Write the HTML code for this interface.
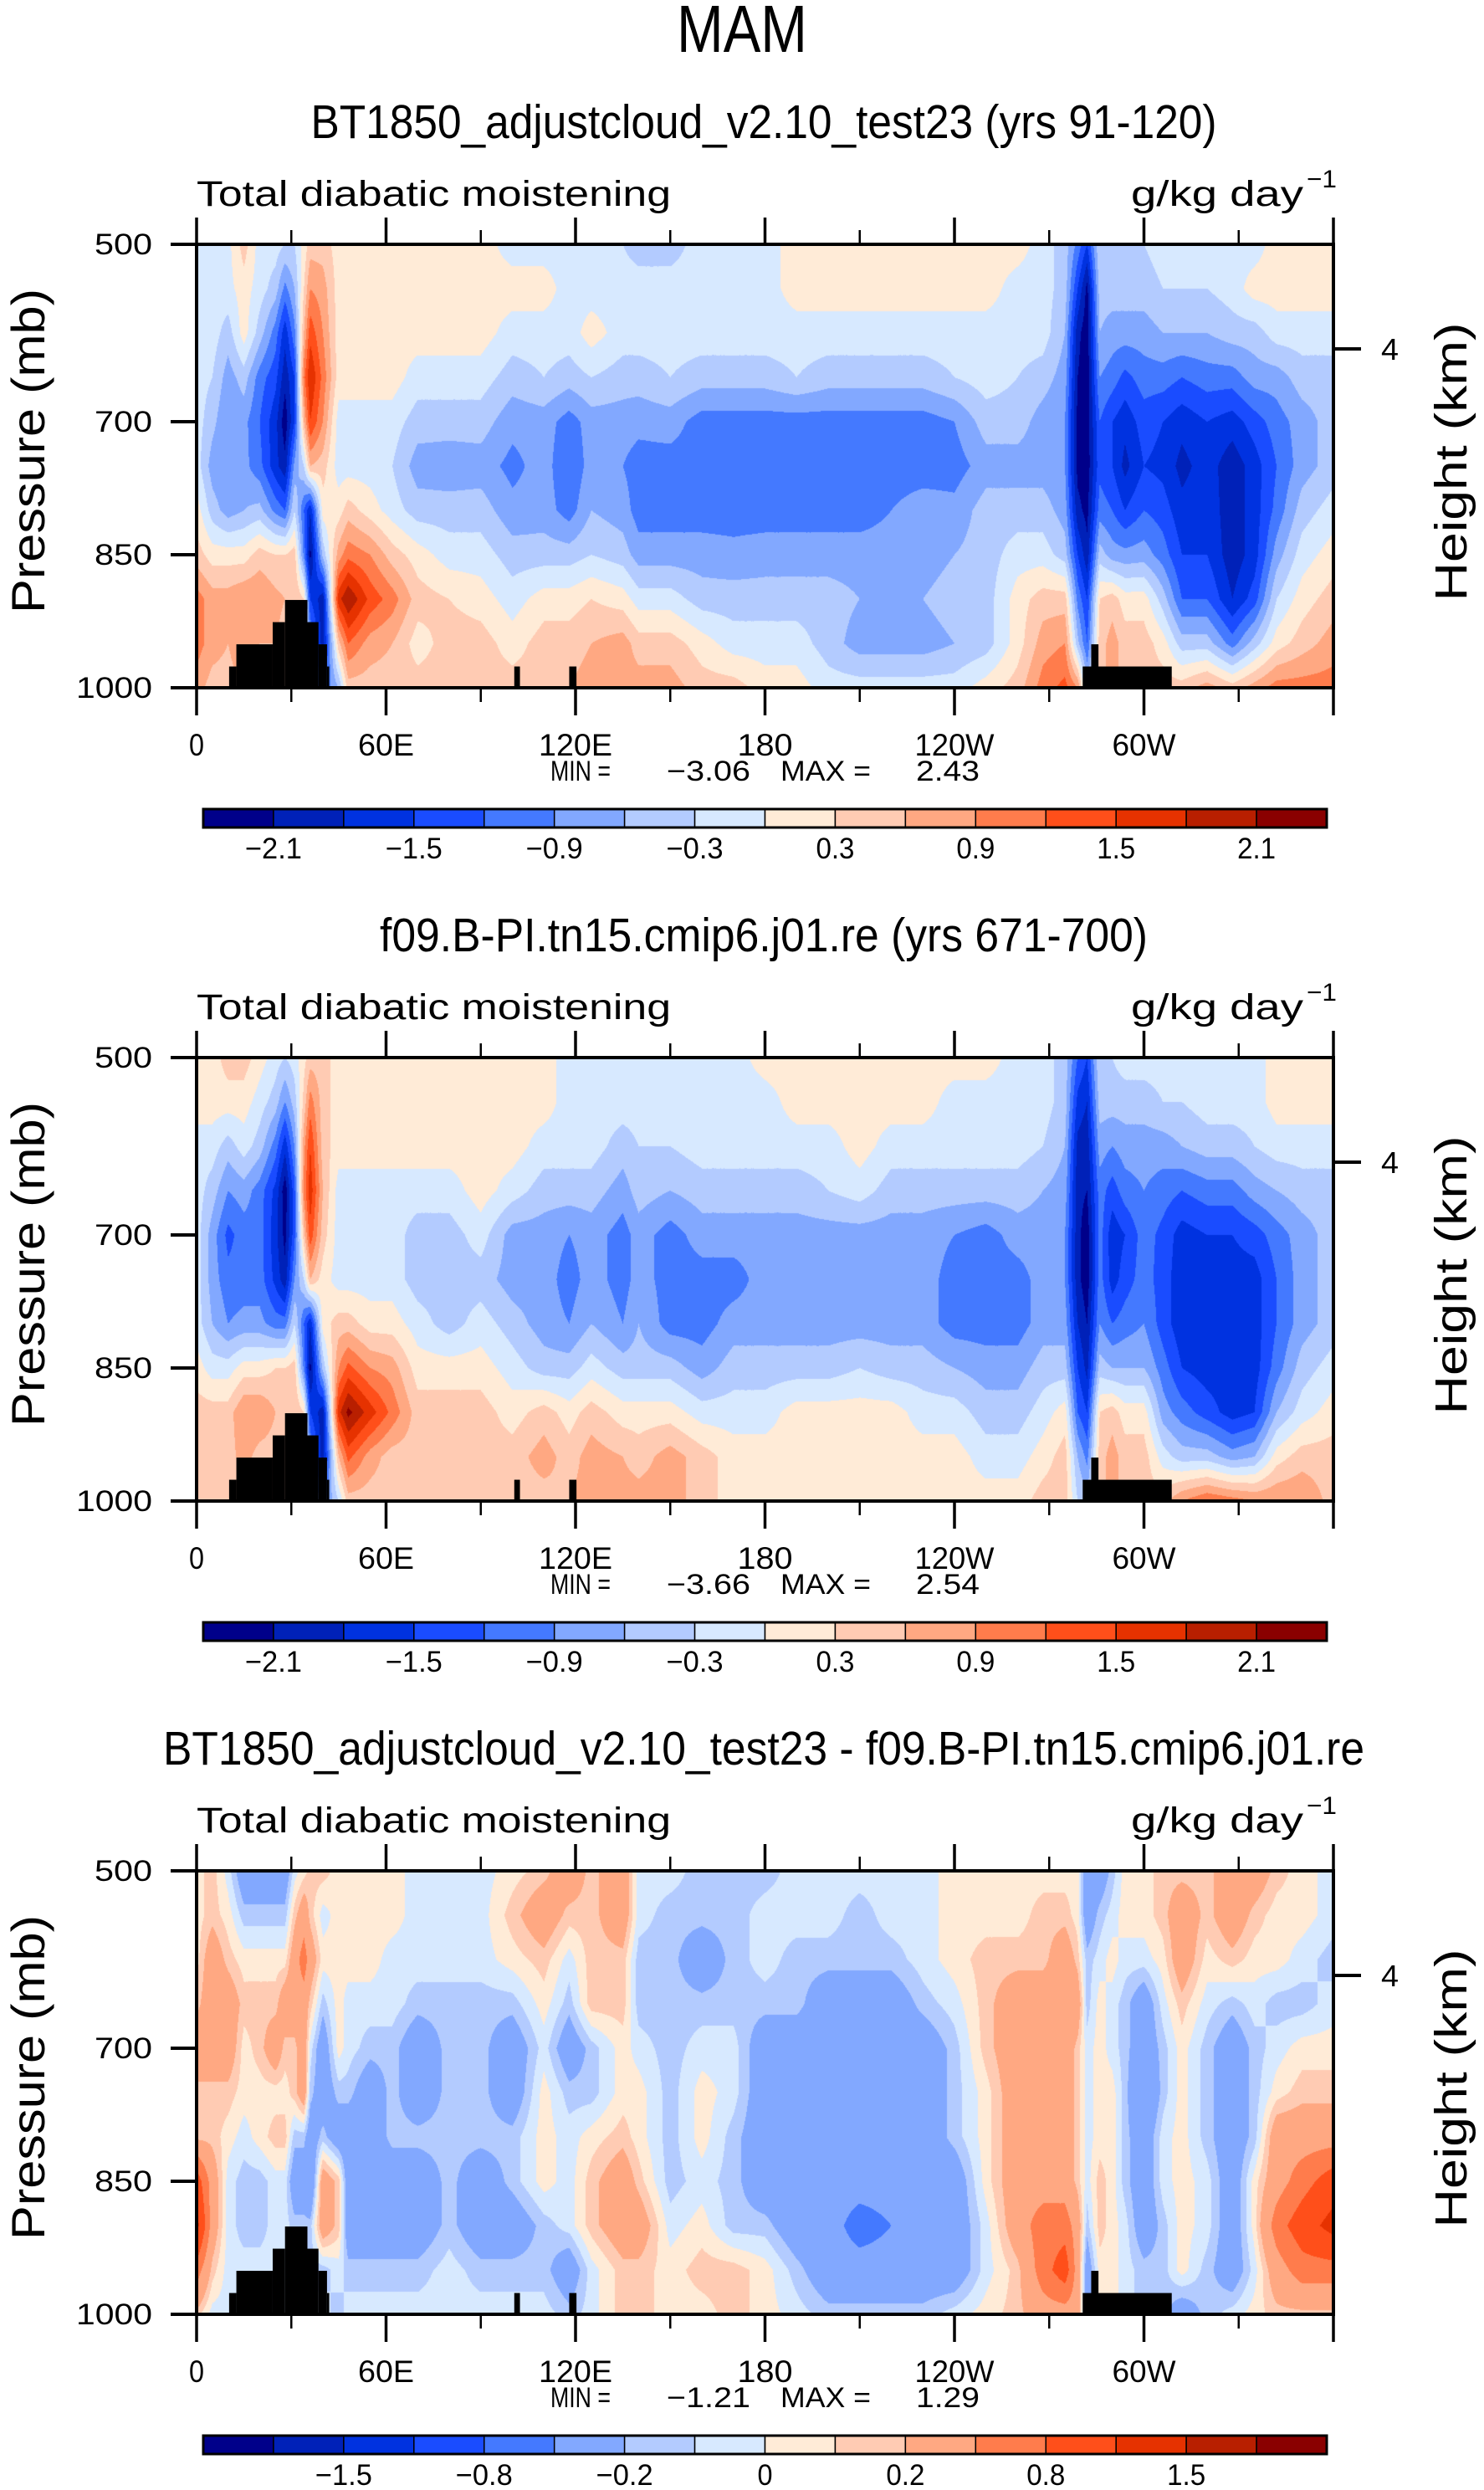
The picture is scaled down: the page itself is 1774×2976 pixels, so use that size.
<!DOCTYPE html>
<html><head><meta charset="utf-8"><title>MAM Total diabatic moistening</title>
<style>
html,body{margin:0;padding:0;background:#fff;}
#page{position:relative;width:1774px;height:2976px;overflow:hidden;background:#fff;}
canvas{position:absolute;}
svg{position:absolute;left:0;top:0;}
text{font-family:"Liberation Sans",sans-serif;fill:#000;}
</style></head>
<body>
<div id="page">
<canvas id="cv0"></canvas>
<canvas id="cv1"></canvas>
<canvas id="cv2"></canvas>
<svg id="svg" width="1774" height="2976" xmlns="http://www.w3.org/2000/svg">
<text x="887" y="62" font-size="80" text-anchor="middle" textLength="156" lengthAdjust="spacingAndGlyphs">MAM</text>
</svg>
</div>
<script>
// ---------- data ----------
const lonGrid=[0,5,10,15,20,25,28,31,34,36,40,45,48,55,62,70,80,90,100,110,118,125,135,140,150,160,170,180,190,200,210,220,230,240,250,260,268,275,279,282,286,290,294,300,306,312,320,328,335,342,350,360];
const pressureLevels=[500,550,600,650,700,750,800,850,900,950,1000];
const levelsAbs=[-2.1,-1.8,-1.5,-1.2,-0.9,-0.6,-0.3,0,0.3,0.6,0.9,1.2,1.5,1.8,2.1];
const levelsDiff=[-1.8,-1.5,-1.2,-0.8,-0.5,-0.2,-0.1,0,0.1,0.2,0.5,0.8,1.2,1.5,1.8];
const labelsAbs=["\u22122.1","\u22121.5","\u22120.9","\u22120.3","0.3","0.9","1.5","2.1"];
const labelIdxAbs=[0,2,4,6,8,10,12,14];
const labelsDiff=["\u22121.5","\u22120.8","\u22120.2","0","0.2","0.8","1.5"];
const labelIdxDiff=[1,3,5,7,9,11,13];
const palette=["#00008a","#0021b8","#0032e0","#1a4cff","#4479ff","#82a8ff","#b3cbff","#d7e9ff","#ffebd7","#ffcbb3","#ffa882","#ff7c4c","#ff4f1a","#e63200","#b81f00","#8a0000"];
const xTickLons=[0,60,120,180,240,300];
const xTickLabels=["0","60E","120E","180","120W","60W"];
const yTickP=[500,700,850,1000];
const yTickLabels=["500","700","850","1000"];
const topoLonStart=[10.3,12.6,24.1,28.0,35.1,38.6,41.3,100.6,118.0,280.6,283.3];
const topoLonEnd=[12.6,24.1,28.0,35.1,38.6,41.3,42.0,102.4,120.3,308.8,285.6];
const topoPressure=[976,951,926,901,926,951,976,976,976,976,951];
const panelTitles=["BT1850_adjustcloud_v2.10_test23 (yrs 91-120)","f09.B-PI.tn15.cmip6.j01.re (yrs 671-700)","BT1850_adjustcloud_v2.10_test23 - f09.B-PI.tn15.cmip6.j01.re"];
const panelMin=["\u22123.06","\u22123.66","\u22121.21"];
const panelMax=["2.43","2.54","1.29"];

const panel1Values=[
[-0.15,-0.15,-0.15,-0.15,-0.15,-0.15,0.15,0.45,1.05,1.05,0.75],
[-0.15,-0.15,-0.15,-0.3,-0.5,-0.75,-0.45,0.15,0.75,0.75,0.45],
[-0.1,-0.1,-0.45,-0.75,-0.9,-0.9,-0.75,0.15,0.75,0.6,0.45],
[0.45,0.15,0.15,-0.45,-0.8,-0.8,-0.6,0.15,0.9,0.9,0.6],
[-0.15,-0.15,-0.45,-1.05,-1.2,-1.1,-0.5,0.45,0.9,0.6,0.45],
[-0.15,-0.45,-1.05,-1.4,-1.7,-1.7,-1.0,0.3,0.7,0.6,0.45],
[-0.3,-1.0,-1.7,-2.0,-2.3,-2.0,-1.2,0.3,0.6,0.45,0.45],
[-0.3,-0.6,-1.0,-1.5,-1.5,-0.8,-0.3,0.45,0.6,0.45,0.45],
[0.1,0.3,0.6,1.1,0.6,-0.3,-1.2,-1.0,0.3,0.3,0.3],
[0.45,0.9,1.4,1.8,1.5,0.6,-1.8,-2.2,-1.5,-0.8,-0.3],
[0.45,0.75,0.9,1.1,0.9,0.45,0.15,-0.5,-2.0,-2.0,-1.2],
[0.15,0.15,0.15,0.15,-0.15,-0.15,0.15,0.75,1.7,0.5,-0.6],
[0.15,0.15,0.15,0.15,-0.15,-0.15,0.45,1.1,2.1,1.2,0.45],
[0.15,0.15,0.15,0.15,-0.15,-0.15,0.15,0.9,1.4,0.75,0.45],
[0.15,0.15,0.15,0.15,-0.15,-0.3,-0.15,0.45,1.05,0.6,0.45],
[0.15,0.15,0.15,-0.15,-0.45,-0.75,-0.45,0.15,0.45,0.15,0.45],
[0.15,0.15,0.15,-0.15,-0.45,-0.8,-0.45,-0.15,0.3,0.45,0.45],
[0.15,0.15,0.15,-0.15,-0.45,-0.75,-0.45,-0.15,0.15,0.45,0.45],
[-0.15,0.15,-0.15,-0.45,-0.8,-1.0,-0.8,-0.45,-0.15,0.15,0.45],
[-0.15,0.15,-0.15,-0.3,-0.75,-0.75,-0.75,-0.45,0.15,0.45,0.45],
[-0.15,-0.15,-0.15,-0.45,-1.05,-1.2,-1.05,-0.45,0.15,0.45,0.6],
[-0.15,-0.15,0.15,-0.3,-0.75,-0.75,-0.6,-0.3,0.3,0.6,0.75],
[-0.3,-0.15,-0.15,-0.45,-0.75,-0.9,-0.75,-0.45,0.15,0.75,0.75],
[-0.45,-0.15,-0.15,-0.45,-0.8,-1.05,-1.05,-0.75,-0.15,0.45,0.75],
[-0.45,-0.15,-0.15,-0.3,-0.75,-1.05,-1.05,-0.75,-0.15,0.45,0.75],
[-0.15,-0.15,-0.15,-0.45,-1.05,-1.05,-1.05,-0.75,-0.45,0.15,0.45],
[-0.15,-0.15,-0.15,-0.45,-1.05,-1.05,-1.05,-0.8,-0.45,-0.15,0.45],
[-0.15,-0.15,-0.15,-0.45,-1.05,-1.05,-1.05,-0.75,-0.45,-0.15,0.15],
[0.15,0.15,-0.15,-0.3,-1.05,-1.05,-1.05,-0.75,-0.45,-0.15,0.15],
[0.15,0.15,-0.15,-0.45,-1.05,-1.05,-1.05,-0.75,-0.45,-0.45,-0.15],
[0.15,0.15,-0.15,-0.45,-1.05,-1.05,-1.05,-0.75,-0.6,-0.75,-0.15],
[0.15,0.15,-0.15,-0.45,-1.05,-1.05,-0.9,-0.75,-0.6,-0.75,-0.15],
[0.15,0.15,-0.15,-0.45,-1.05,-1.05,-0.75,-0.75,-0.6,-0.75,-0.15],
[0.15,0.15,-0.15,-0.3,-0.9,-1.05,-0.8,-0.6,-0.45,-0.6,-0.15],
[0.15,0.15,-0.15,-0.15,-0.45,-0.75,-0.45,-0.45,-0.45,-0.45,0.15],
[0.15,-0.15,-0.15,-0.3,-0.45,-0.75,-0.45,-0.15,0.15,0.15,0.45],
[-0.15,-0.15,-0.15,-0.45,-0.75,-0.75,-0.45,-0.15,0.45,0.75,1.05],
[-0.45,-0.45,-0.6,-0.75,-0.9,-0.9,-0.75,-0.45,0.45,0.9,1.3],
[-1.0,-1.5,-2.0,-2.1,-2.2,-2.2,-2.0,-1.5,-1.0,-0.5,0.9],
[-1.5,-2.2,-2.3,-2.3,-2.3,-2.3,-2.2,-2.0,-1.5,-1.2,-0.5],
[-0.3,-0.45,-0.6,-0.9,-1.2,-1.3,-1.05,-0.45,0.3,0.45,0.45],
[-0.3,-0.45,-0.75,-1.05,-1.5,-1.5,-1.2,-0.75,0.45,0.75,0.75],
[-0.3,-0.45,-0.75,-1.3,-1.7,-1.9,-1.5,-0.8,0.15,0.45,0.45],
[-0.3,-0.45,-0.75,-1.05,-1.35,-1.5,-1.2,-0.75,0.15,0.45,0.45],
[-0.15,-0.3,-0.6,-1.05,-1.5,-1.6,-1.35,-1.05,-0.45,0.15,0.45],
[-0.15,-0.3,-0.6,-1.2,-1.7,-1.9,-1.7,-1.5,-1.2,-0.45,0.45],
[-0.15,-0.3,-0.6,-1.05,-1.5,-1.65,-1.6,-1.5,-1.2,-0.45,0.75],
[-0.15,-0.15,-0.45,-1.05,-1.65,-2.0,-2.0,-2.0,-1.8,-1.05,0.45],
[-0.15,0.15,-0.45,-0.75,-1.35,-1.65,-1.65,-1.65,-1.35,-0.45,0.75],
[0.15,0.15,-0.15,-0.75,-1.05,-1.2,-1.1,-0.75,-0.3,0.15,1.05],
[0.15,0.15,-0.15,-0.45,-0.75,-0.75,-0.45,-0.15,0.15,0.45,1.05],
[0.15,0.15,-0.15,-0.45,-0.45,-0.45,-0.15,0.15,0.45,0.75,1.05]
];
const panel2Values=[
[0.15,0.15,-0.15,-0.15,-0.15,-0.15,-0.15,0.15,0.45,0.45,0.45],
[0.15,0.15,-0.15,-0.45,-0.75,-0.75,-0.6,-0.15,0.45,0.45,0.3],
[0.45,0.15,-0.45,-0.9,-1.3,-1.1,-0.9,-0.15,0.45,0.45,0.3],
[0.45,0.15,-0.15,-0.75,-1.05,-1.05,-0.8,0.15,0.9,0.75,0.45],
[0.15,-0.15,-0.45,-1.05,-1.05,-1.05,-0.8,0.15,0.9,0.45,0.45],
[-0.15,-0.45,-1.05,-1.6,-1.7,-1.6,-1.05,0.3,0.6,0.45,0.45],
[-0.3,-0.9,-1.7,-2.3,-2.2,-2.0,-1.05,0.3,0.6,0.45,0.45],
[-0.15,-0.45,-0.9,-1.3,-1.3,-0.9,-0.3,0.45,0.6,0.45,0.45],
[0.2,0.4,0.8,1.0,0.5,-0.3,-1.2,-1.0,0.3,0.3,0.3],
[0.45,1.05,1.5,1.7,1.4,0.6,-1.8,-2.2,-1.5,-0.8,-0.3],
[0.45,0.45,0.45,0.6,0.45,0.15,0.15,-0.5,-2.0,-2.0,-1.0],
[0.15,0.15,0.15,-0.15,-0.15,-0.15,0.45,0.9,1.7,0.6,-0.3],
[0.15,0.15,0.15,-0.15,-0.15,-0.15,0.45,1.3,2.2,1.3,0.45],
[0.15,0.15,0.15,-0.15,-0.15,-0.15,0.15,0.9,1.65,0.75,0.45],
[0.15,0.15,0.15,-0.15,-0.15,-0.15,0.15,0.75,1.1,0.45,0.45],
[0.15,0.15,0.15,-0.15,-0.45,-0.45,-0.15,0.15,0.45,0.45,0.45],
[0.15,0.15,0.15,-0.15,-0.45,-0.45,-0.45,0.15,0.45,0.45,0.45],
[0.15,0.15,0.15,0.15,-0.15,-0.45,-0.15,0.15,0.45,0.45,0.45],
[0.15,0.15,0.15,-0.15,-0.75,-0.75,-0.45,-0.15,0.15,0.45,0.45],
[0.15,0.15,-0.15,-0.45,-0.75,-0.75,-0.75,-0.45,0.45,0.75,0.45],
[-0.15,-0.15,-0.15,-0.45,-0.9,-1.05,-0.9,-0.45,0.15,0.45,0.6],
[-0.15,-0.15,-0.15,-0.45,-0.75,-0.75,-0.6,-0.15,0.45,0.75,0.75],
[-0.3,-0.15,-0.45,-0.75,-1.05,-1.05,-0.9,-0.45,0.15,0.6,0.75],
[-0.15,-0.15,-0.3,-0.45,-0.75,-0.75,-0.6,-0.45,0.15,0.45,0.75],
[-0.15,-0.15,-0.3,-0.6,-1.05,-1.05,-1.05,-0.45,0.15,0.75,0.75],
[-0.15,-0.15,-0.15,-0.45,-0.75,-1.05,-1.05,-0.75,-0.15,0.45,0.45],
[-0.15,-0.15,-0.15,-0.45,-0.75,-1.05,-0.75,-0.45,-0.15,0.15,0.15],
[0.15,-0.15,-0.15,-0.45,-0.75,-0.75,-0.75,-0.45,-0.15,0.15,0.15],
[0.15,0.15,-0.15,-0.45,-0.75,-0.75,-0.75,-0.45,0.15,0.15,0.15],
[0.15,0.15,-0.15,-0.3,-0.75,-0.75,-0.75,-0.45,0.15,0.15,0.15],
[0.15,0.15,0.15,-0.15,-0.75,-0.75,-0.75,-0.3,0.15,0.15,0.15],
[0.15,0.15,-0.15,-0.45,-0.75,-0.75,-0.75,-0.45,0.15,0.15,0.15],
[0.15,0.15,-0.15,-0.45,-0.75,-0.75,-0.75,-0.45,-0.15,0.15,0.15],
[0.15,-0.15,-0.15,-0.45,-0.9,-1.05,-1.05,-0.6,-0.15,0.15,0.15],
[0.15,-0.15,-0.15,-0.45,-1.05,-1.05,-1.05,-0.75,-0.45,-0.15,0.15],
[-0.15,-0.15,-0.15,-0.45,-0.75,-1.05,-1.05,-0.75,-0.45,-0.15,0.15],
[-0.15,-0.15,-0.3,-0.6,-0.75,-0.75,-0.75,-0.45,-0.15,0.15,0.45],
[-0.45,-0.45,-0.6,-0.75,-0.9,-0.9,-0.75,-0.45,0.15,0.45,0.45],
[-1.2,-1.6,-1.9,-2.0,-2.0,-2.0,-1.8,-1.5,-1.2,-0.6,-0.3],
[-1.5,-1.8,-2.0,-2.1,-2.3,-2.3,-2.1,-1.9,-1.5,-1.0,-0.5],
[-0.3,-0.45,-0.75,-1.05,-1.05,-1.05,-0.9,-0.45,0.3,0.45,0.45],
[-0.3,-0.45,-0.9,-1.35,-1.7,-1.65,-1.2,-0.6,0.45,0.75,0.75],
[-0.15,-0.45,-0.75,-1.05,-1.5,-1.35,-1.05,-0.6,0.15,0.45,0.45],
[-0.15,-0.45,-0.75,-0.9,-1.05,-1.05,-0.9,-0.6,0.15,0.45,0.45],
[-0.15,-0.3,-0.75,-1.05,-1.3,-1.35,-1.35,-1.05,-0.75,-0.15,0.45],
[-0.15,-0.3,-0.6,-1.2,-1.65,-1.7,-1.7,-1.5,-1.05,-0.45,0.9],
[-0.15,-0.15,-0.45,-1.05,-1.5,-1.65,-1.65,-1.65,-1.35,-0.45,1.2],
[-0.15,-0.15,-0.45,-1.05,-1.5,-1.65,-1.65,-1.65,-1.65,-0.75,1.05],
[-0.15,-0.15,-0.3,-0.75,-1.35,-1.65,-1.65,-1.65,-1.5,-0.6,0.9],
[0.15,0.15,-0.15,-0.6,-1.05,-1.2,-1.2,-1.05,-0.6,0.15,0.9],
[0.15,0.15,-0.15,-0.45,-0.75,-0.75,-0.75,-0.45,-0.15,0.45,0.9],
[0.15,0.15,-0.15,-0.45,-0.45,-0.45,-0.45,-0.15,0.15,0.45,0.45]
];
const panel3Values=[
[0.05,0.05,0.05,0.15,0.35,0.15,0.15,1.0,1.35,0.65,0.15],
[0.15,0.15,0.35,0.35,0.35,0.15,0.15,0.35,0.35,0.15,-0.05],
[-0.05,0.05,0.15,0.35,0.35,0.15,0.05,-0.05,-0.05,-0.05,-0.05],
[-0.35,-0.15,0.05,0.15,0.05,0.05,-0.05,-0.15,-0.15,-0.05,-0.05],
[-0.35,-0.15,0.05,0.15,0.15,0.05,0.05,-0.15,-0.15,-0.05,-0.05],
[-0.35,-0.15,0.05,0.15,0.35,0.05,0.15,-0.05,-0.05,-0.05,-0.05],
[-0.35,-0.15,0.05,0.35,0.15,0.05,0.15,-0.05,-0.05,-0.05,-0.05],
[-0.05,0.15,0.35,0.35,0.15,0.15,-0.15,-0.35,-0.15,-0.05,-0.05],
[0.05,0.35,0.65,0.35,0.35,0.35,-0.15,-0.35,-0.15,-0.05,-0.05],
[0.15,0.15,0.35,0.15,-0.05,-0.15,-0.35,-0.5,-0.15,-0.15,-0.05],
[0.15,-0.05,0.05,-0.15,-0.35,-0.35,-0.15,0.35,0.35,-0.15,-0.05],
[0.05,0.05,0.05,0.05,0.05,-0.15,-0.35,0.15,0.15,-0.05,-0.15],
[0.05,0.05,0.05,-0.05,-0.05,-0.15,-0.35,-0.35,-0.35,-0.15,-0.05],
[0.05,0.05,0.05,-0.05,-0.15,-0.35,-0.35,-0.35,-0.35,-0.15,-0.05],
[0.05,0.05,-0.05,-0.05,-0.15,-0.15,-0.15,-0.35,-0.35,-0.15,-0.05],
[-0.05,-0.05,-0.05,-0.15,-0.35,-0.35,-0.15,-0.35,-0.35,-0.15,-0.05],
[-0.05,-0.05,-0.05,-0.15,-0.15,-0.15,-0.15,-0.15,-0.15,-0.05,-0.05],
[-0.05,-0.05,-0.05,-0.15,-0.15,-0.15,-0.15,-0.35,-0.35,-0.15,-0.05],
[0.05,0.15,0.05,-0.15,-0.35,-0.35,-0.15,-0.15,-0.35,-0.15,-0.05],
[0.15,0.35,0.15,0.05,-0.05,0.05,0.05,0.05,-0.15,-0.15,-0.05],
[0.35,0.15,-0.05,-0.15,-0.35,-0.15,-0.05,-0.05,-0.05,-0.35,-0.15],
[0.15,0.15,0.15,0.15,-0.15,-0.15,0.05,0.15,0.15,-0.05,-0.05],
[0.35,0.35,0.15,0.15,0.05,0.05,0.15,0.35,0.35,0.15,0.15],
[-0.05,-0.05,-0.15,-0.15,-0.05,0.05,0.05,0.15,0.35,0.15,0.15],
[-0.05,-0.15,-0.15,-0.15,-0.15,-0.15,-0.15,-0.15,-0.05,0.05,0.05],
[-0.15,-0.15,-0.35,-0.15,-0.05,0.05,0.05,-0.05,0.05,0.15,0.05],
[-0.15,-0.15,-0.15,-0.15,-0.05,-0.05,-0.15,-0.15,-0.15,0.15,0.15],
[-0.15,-0.05,-0.05,-0.15,-0.35,-0.35,-0.35,-0.35,-0.15,0.05,0.05],
[-0.05,-0.05,-0.15,-0.15,-0.35,-0.35,-0.35,-0.35,-0.35,-0.15,-0.05],
[-0.05,-0.05,-0.15,-0.35,-0.35,-0.35,-0.35,-0.35,-0.35,-0.35,-0.15],
[-0.05,-0.15,-0.15,-0.35,-0.35,-0.35,-0.35,-0.35,-0.65,-0.35,-0.15],
[-0.05,-0.05,-0.15,-0.35,-0.35,-0.35,-0.35,-0.35,-0.5,-0.35,-0.15],
[-0.05,-0.05,-0.05,-0.15,-0.35,-0.35,-0.35,-0.35,-0.35,-0.35,-0.15],
[0.05,0.05,0.05,-0.05,-0.15,-0.15,-0.15,-0.35,-0.35,-0.35,-0.05],
[0.05,0.05,0.15,0.15,0.15,0.05,0.05,0.05,-0.05,-0.05,0.05],
[0.05,0.05,0.15,0.35,0.35,0.35,0.35,0.35,0.35,0.15,0.15],
[0.05,0.15,0.15,0.35,0.35,0.35,0.35,0.35,0.65,0.65,0.35],
[0.05,0.15,0.35,0.35,0.35,0.35,0.35,0.35,0.65,1.0,0.35],
[0.05,0.05,0.15,0.35,0.15,0.15,0.15,0.15,0.35,0.35,0.35],
[-0.35,-0.35,-0.15,-0.15,-0.05,-0.05,-0.05,-0.05,-0.15,-0.35,-0.35],
[-0.35,-0.15,-0.05,0.05,0.05,0.05,0.05,0.15,0.15,0.05,0.05],
[-0.15,-0.05,0.05,-0.05,-0.05,0.05,0.05,0.05,0.05,0.05,0.05],
[0.05,0.05,-0.05,-0.15,-0.15,-0.15,-0.15,-0.15,-0.05,-0.05,-0.05],
[0.05,0.05,-0.05,-0.35,-0.35,-0.5,-0.35,-0.35,-0.35,-0.15,-0.15],
[0.15,0.15,0.05,-0.05,-0.15,-0.15,-0.05,-0.05,-0.15,-0.15,-0.15],
[0.15,0.35,0.35,0.15,0.05,0.05,0.05,0.05,0.05,0.05,-0.35],
[0.15,0.15,0.05,-0.05,-0.15,-0.15,-0.15,-0.05,-0.05,-0.15,-0.15],
[0.35,0.35,0.15,-0.15,-0.35,-0.35,-0.35,-0.35,-0.35,-0.35,-0.05],
[0.35,0.15,0.05,-0.05,-0.15,-0.15,-0.15,0.05,0.05,-0.05,0.05],
[0.15,0.05,0.05,-0.15,-0.05,0.05,0.35,0.35,0.65,0.35,0.15],
[0.05,0.05,-0.05,-0.15,0.05,0.15,0.35,0.65,1.0,0.65,0.15],
[-0.05,-0.05,-0.15,-0.05,0.05,0.15,0.35,1.0,1.35,0.65,0.15]
];
const panelData=[panel1Values,panel2Values,panel3Values];
const panelLevels=[levelsAbs,levelsAbs,levelsDiff];
const panelCbLabels=[labelsAbs,labelsAbs,labelsDiff];
const panelCbIdx=[labelIdxAbs,labelIdxAbs,labelIdxDiff];

// ---------- layout ----------
const PL=235,PR=1594,PW=PR-PL,PH=530,TOP0=292,DY=972;
const NS="http://www.w3.org/2000/svg";
const svg=document.getElementById('svg');
function xScale(lon){return PL+lon/360*PW;}
function yScale(p,top){return top+(p-500)/500*PH;}
function mk(tag,attrs,parent){const e=document.createElementNS(NS,tag);for(const k in attrs)e.setAttribute(k,attrs[k]);(parent||svg).appendChild(e);return e;}
function hexToRgb(h){return [parseInt(h.slice(1,3),16),parseInt(h.slice(3,5),16),parseInt(h.slice(5,7),16)];}
const palRgb=palette.map(hexToRgb);

function sample(vals,lon,p){
  let i=0;while(i<lonGrid.length-2&&lonGrid[i+1]<lon)i++;
  const tx=Math.min(1,Math.max(0,(lon-lonGrid[i])/(lonGrid[i+1]-lonGrid[i])));
  let r=(p-500)/50;let j=Math.min(9,Math.floor(r));const ty=r-j;
  const a=vals[i][j],b=vals[i+1][j],c=vals[i][j+1],d=vals[i+1][j+1];
  return (a*(1-tx)+b*tx)*(1-ty)+(c*(1-tx)+d*tx)*ty;
}
function classify(v,lev){let k=0;while(k<lev.length&&v>=lev[k])k++;return k;}

for(let n=0;n<3;n++){
  const top=TOP0+n*DY;
  const g=mk('g',{});
  
  
  // canvas field
  const cv=document.getElementById('cv'+n);
  cv.width=PW;cv.height=PH;cv.style.left=PL+'px';cv.style.top=top+'px';
  const ctx=cv.getContext('2d');const img=ctx.createImageData(PW,PH);
  const vals=panelData[n],lev=panelLevels[n];
  const colCache=[];
  for(let x=0;x<PW;x++){colCache.push((x+0.5)/PW*360);}
  for(let y=0;y<PH;y++){
    const p=500+(y+0.5)/PH*500;
    for(let x=0;x<PW;x++){
      const k=classify(sample(vals,colCache[x],p),lev);
      const c=palRgb[k];const o=(y*PW+x)*4;
      img.data[o]=c[0];img.data[o+1]=c[1];img.data[o+2]=c[2];img.data[o+3]=255;
    }
  }
  ctx.putImageData(img,0,0);
  // topography
  for(let t=0;t<topoLonStart.length;t++){
    const x0=xScale(topoLonStart[t]),x1=xScale(topoLonEnd[t]),y0=yScale(topoPressure[t],top);
    const r=mk('rect',{x:x0,y:y0,width:x1-x0,height:top+PH-y0,fill:'#000'},g);
    
    
  }
  // frame
  const fr=mk('rect',{x:PL,y:top,width:PW,height:PH,fill:'none',stroke:'#000','stroke-width':4},g);
  
  
  // x ticks
  for(let lon=0;lon<=360;lon+=30){
    const major=lon%60===0;const x=xScale(lon);
    const tb=mk('line',{x1:x,x2:x,y1:top+PH,y2:top+PH+(major?33:17),stroke:'#000','stroke-width':major?3.5:2.5},g);
    
    
    const tt=mk('line',{x1:x,x2:x,y1:top,y2:top-(major?32:17),stroke:'#000','stroke-width':major?3.5:2.5},g);
    
    
  }
  xTickLons.forEach((lon,i)=>{
    const w=[18,67,88,66,95,76][i];
    const t=mk('text',{x:xScale(lon),y:top+611,'font-size':37,'text-anchor':'middle',textLength:w,lengthAdjust:'spacingAndGlyphs'},g);
    t.textContent=xTickLabels[i];
    
    
  });
  // y ticks
  yTickP.forEach((p,i)=>{
    const y=yScale(p,top);
    const l=mk('line',{x1:PL-31,x2:PL,y1:y,y2:y,stroke:'#000','stroke-width':4},g);
    
    
    const t=mk('text',{x:182,y:y+12,'font-size':35,'text-anchor':'end',textLength:p===1000?91:69,lengthAdjust:'spacingAndGlyphs'},g);
    t.textContent=yTickLabels[i];
    
    
  });
  // right axis 4 km
  const ry=top+125;
  const rl=mk('line',{x1:PR,x2:PR+33,y1:ry,y2:ry,stroke:'#000','stroke-width':4},g);
  
  
  const r4=mk('text',{x:1651,y:ry+13,'font-size':36,textLength:21,lengthAdjust:'spacingAndGlyphs'},g);
  r4.textContent='4';
  
  
  // axis titles
  const cyP=top+247;
  const pt=mk('text',{x:0,y:0,'font-size':56,'text-anchor':'middle',textLength:388,lengthAdjust:'spacingAndGlyphs',transform:'translate(53,'+cyP+') rotate(-90)'},g);
  pt.textContent='Pressure (mb)';
  
  
  const ht=mk('text',{x:0,y:0,'font-size':54,'text-anchor':'middle',textLength:333,lengthAdjust:'spacingAndGlyphs',transform:'translate(1753,'+(top+260)+') rotate(-90)'},g);
  ht.textContent='Height (km)';
  
  
  // titles
  const tw=[1083,918,1436][n];
  const ti=mk('text',{x:913,y:top-127,'font-size':57,'text-anchor':'middle',textLength:tw,lengthAdjust:'spacingAndGlyphs'},g);
  ti.textContent=panelTitles[n];
  
  
  const lt=mk('text',{x:235,y:top-46,'font-size':43,textLength:567,lengthAdjust:'spacingAndGlyphs'},g);
  lt.textContent='Total diabatic moistening';
  
  
  const ut=mk('text',{x:1352,y:top-46,'font-size':43,textLength:206,lengthAdjust:'spacingAndGlyphs'},g);
  ut.textContent='g/kg day';
  
  
  const us=mk('text',{x:1562,y:top-68,'font-size':30,textLength:36,lengthAdjust:'spacingAndGlyphs'},g);
  us.textContent='\u22121';
  
  
  // min max
  const mmY=top+641;
  [['MIN =',658,72],[panelMin[n],797,100],['MAX =',933,108],[panelMax[n],1095,76]].forEach(a=>{
    const t=mk('text',{x:a[1],y:mmY,'font-size':34,textLength:a[2],lengthAdjust:'spacingAndGlyphs'},g);
    t.textContent=a[0];
    
    
  });
  // colorbar
  const cbX=243,cbW=1343,cbY=top+675,cbH=22,bw=cbW/16;
  const cb=mk('g',{},g);
  
  
  palette.forEach((col,k)=>{
    const r=mk('rect',{x:cbX+k*bw,y:cbY,width:bw,height:cbH,fill:col,stroke:'#000','stroke-width':1.5},cb);
    
    
  });
  const ob=mk('rect',{x:cbX,y:cbY,width:cbW,height:cbH,fill:'none',stroke:'#000','stroke-width':3},cb);
  
  
  panelCbLabels[n].forEach((lab,i)=>{
    const bx=cbX+(panelCbIdx[n][i]+1)*bw;
    const w=lab.length>=4?68:(lab.length===3?46:18);
    const t=mk('text',{x:bx,y:cbY+59,'font-size':35,'text-anchor':'middle',textLength:w,lengthAdjust:'spacingAndGlyphs'},cb);
    t.textContent=lab;
    
    
  });
}
</script>
</body></html>
